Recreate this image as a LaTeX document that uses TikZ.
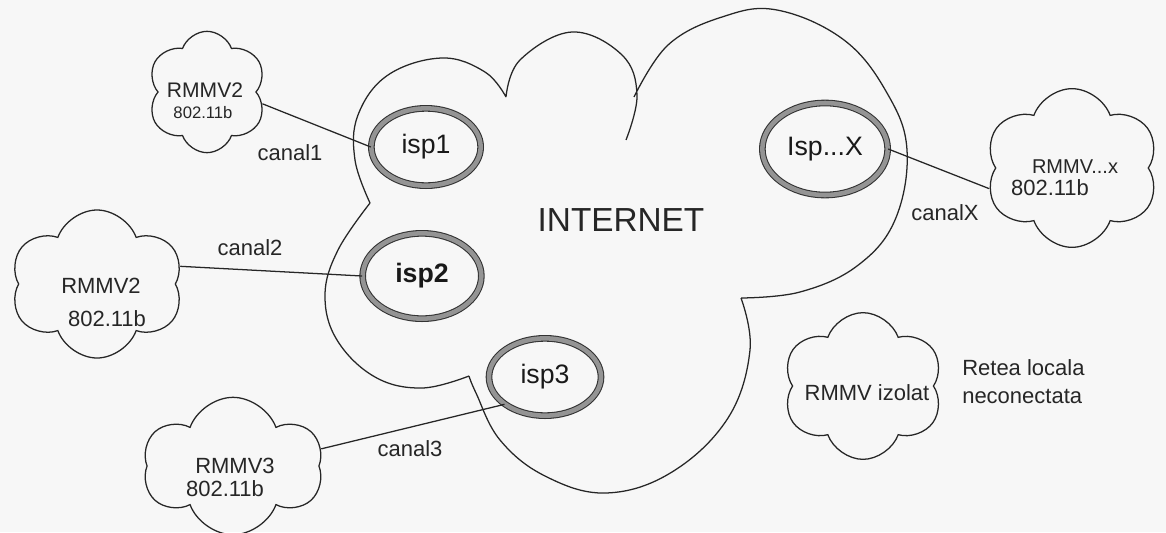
\documentclass[tikz,border=0pt]{standalone}
\usepackage{fontspec}
\setmainfont{Liberation Sans}
\usetikzlibrary{shapes.symbols,shapes.geometric}
\begin{document}
\begin{tikzpicture}[x=0.75pt,y=-0.75pt,
  cloudn/.style={cloud, cloud puffs=6, cloud puff arc=140, draw=black!85, line width=0.95pt, inner sep=0pt},
  isp/.style={ellipse, draw=black!80, line width=0.8pt, double=black!42, double distance=3.4pt, inner sep=0pt, text=black!90, font=\fontsize{20}{22}\selectfont},
  lbl/.style={inner sep=0pt, text=black!85, font=\fontsize{16.5}{18}\selectfont},
  small/.style={inner sep=0pt, text=black!85, font=\fontsize{12.5}{14}\selectfont},
  link/.style={draw=black!85, line width=0.95pt},
  outline/.style={draw=black!85, line width=0.95pt}]
\useasboundingbox[fill=black!3] (0,0) rectangle (1166,532);

% big INTERNET cloud
\draw[outline]
  plot[smooth, tension=0.65] coordinates {(370,203) (355,160) (358,115) (388,75) (442,58) (485,72) (506,97)}
  plot[smooth, tension=0.65] coordinates {(506,97) (520,60) (572,32) (622,55) (637,95) (626,140)}
  plot[smooth, tension=0.65] coordinates {(634,97) (668,45) (722,17) (777,10) (844,40) (887,93) (907,150) (895,220) (857,266) (800,292) (741,298)}
  plot[smooth, tension=0.65] coordinates {(741,298) (750,350) (728,418) (672,472) (606,493) (545,476) (500,440) (476,393) (469,376)}
  plot[smooth, tension=0.65] coordinates {(469,376) (422,388) (375,377) (337,340) (325,295) (338,250) (370,203)};
\node[inner sep=0pt, text=black!85, font=\fontsize{25}{28}\selectfont] (inet) at (621,220) {INTERNET};

% isp ellipses
\node[isp, minimum width=82pt, minimum height=58pt] (isp1) at (426,147) {isp1};
\node[isp, minimum width=89pt, minimum height=64pt, font=\fontsize{20}{22}\selectfont\bfseries] (isp2) at (422,276) {isp2};
\node[isp, minimum width=84pt, minimum height=58pt] (isp3) at (545,377) {isp3};
\node[isp, minimum width=94pt, minimum height=69pt] (ispX) at (825,149) {Isp...X};

% small clouds
\node[cloudn, minimum width=90pt, minimum height=91pt] (cTop) at (207,92) {};
\node[cloudn, minimum width=130pt, minimum height=111pt] (cLeft) at (97,284) {};
\node[cloudn, minimum width=131pt, minimum height=119pt] (cRight) at (1072,168) {};
\node[cloudn, minimum width=135pt, minimum height=103pt] (cBot) at (233,466) {};
\node[cloudn, minimum width=121pt, minimum height=110pt] (cIso) at (863,386) {};

% cloud texts
\node[lbl, font=\fontsize{15.8}{17}\selectfont] (tTopA) at (205,90) {RMMV2};
\node[small] (tTopB) at (203,113) {802.11b};
\node[lbl] (tLeftA) at (101,286) {RMMV2};
\node[lbl] (tLeftB) at (107,319) {802.11b};
\node[lbl, font=\fontsize{15}{17}\selectfont] (tRightA) at (1075,167) {RMMV...x};
\node[lbl] (tRightB) at (1050,188) {802.11b};
\node[lbl] (tBotA) at (235,466) {RMMV3};
\node[lbl] (tBotB) at (225,489) {802.11b};
\node[lbl] (tIso) at (867,393) {RMMV izolat};
\node[lbl, anchor=west] (tRet1) at (962,368) {Retea locala};
\node[lbl, anchor=west] (tRet2) at (962,396) {neconectata};

% connectors
\draw[link] (cTop.-12) -- (isp1.west);
\draw[link] (cLeft.12) -- (isp2.west);
\draw[link] (cBot.11) -- (isp3.214);
\draw[link] (ispX.east) -- (cRight.194);

% connector labels
\node[lbl] (l1) at (290,153) {canal1};
\node[lbl] (l2) at (250,248) {canal2};
\node[lbl] (l3) at (410,449) {canal3};
\node[lbl] (lX) at (945,213) {canalX};
\end{tikzpicture}
\end{document}
